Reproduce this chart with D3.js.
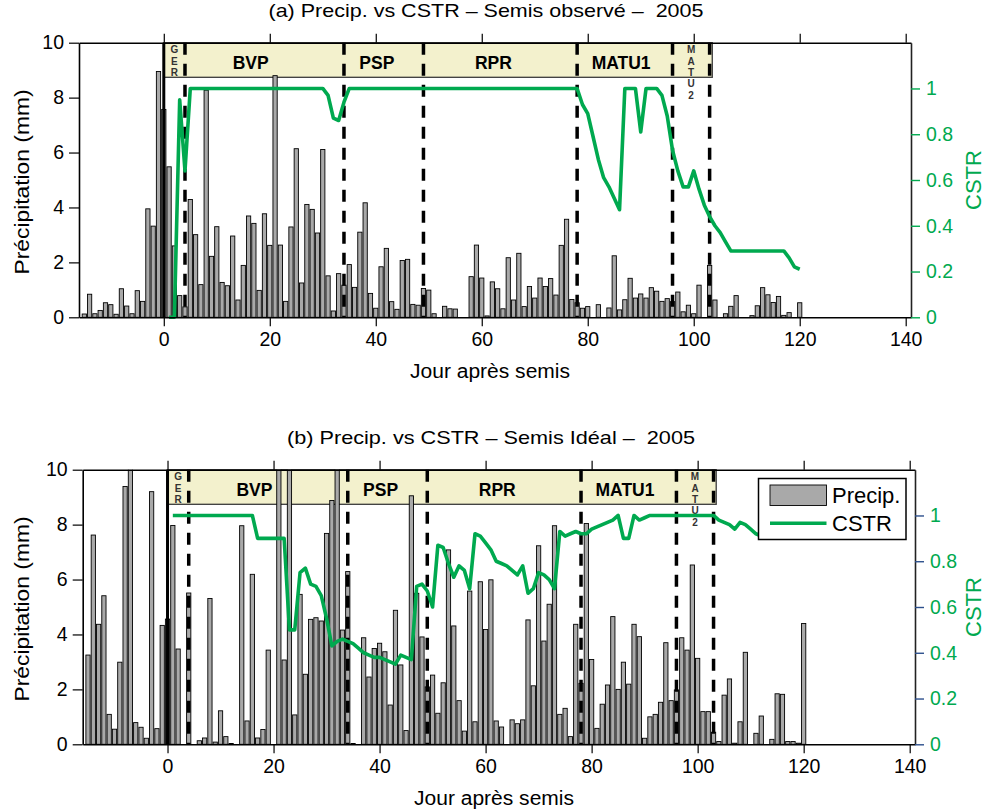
<!DOCTYPE html>
<html><head><meta charset="utf-8">
<script src="https://cdn.jsdelivr.net/npm/d3@7"></script>
<style>
body{margin:0;background:#fff}
svg{display:block}
text{font-family:"Liberation Sans",Arial,Helvetica,sans-serif}
</style>
</head><body>
<svg id="chart" width="986" height="809"></svg>
<script>
// ---------------- DATA ----------------
const precipDays = d3.range(-15, 121); // day after sowing, -15 .. 120
const precipObserved = [
0.12,0.84,0.13,0.25,0.53,0.46,0.11,1.04,0.41,0.13,0.97,0.58,3.95,3.32,8.95,
7.57,
5.48,2.6,0.79,0.38,4.29,3.01,1.19,8.27,2.22,3.3,
1.27,1.15,2.96,0.63,1.89,3.69,3.42,0.98,3.77,2.62,
8.8,2.63,0.58,3.29,6.14,1.25,4.11,3.93,3.07,6.11,
1.51,0.23,1.59,1.17,1.92,1.09,3.1,4.17,0.87,0.33,
1.84,2.51,0.57,0.29,2.07,2.11,0.47,0.44,1.05,0.99,
0.13,0,0.4,0.31,0.3,0,0,1.48,2.63,1.43,
0.05,1.29,1.04,0.31,2.17,0.63,2.33,0.39,1.12,0.7,
1.43,1.12,1.41,0.81,2.62,3.57,0.65,0.53,0.33,0.39,
0,0.46,0,0.34,2.24,0.27,0.64,1.42,0.7,0.85,
0.7,1.08,0.95,0.58,0.68,0.57,0.92,0.2,0.44,0.13,
1.17,0,1.89,0.63,0,0.13,0.4,0.79,0,0,
0.06,0.42,1.08,0.82,0.54,0.76,0.07,0.17,0,0.53
];
const precipIdeal = [
3.25,7.62,4.37,5.41,1.09,0.55,2.99,9.39,12,0.79,0.62,0.22,9.2,0.57,4.33,
4.56,
7.97,3.47,0,5.51,0,0.13,0.23,5.31,0.08,1.22,
0.28,0.03,0,7.96,0.85,6.19,0.23,0.54,3.43,0,
12,3.07,12,1.07,5.46,2.55,4.55,4.61,4.49,7.68,
8.88,12,4.16,6.29,0.03,0,3.88,2.45,3.49,3.68,
3.37,1.43,4.88,2.89,0.5,9.05,5.5,3.91,2.09,2.52,
1.13,2.24,7.08,4.31,1.59,0.48,5.58,0.82,5.92,4.18,
5.99,0.85,0.63,0,0.89,0.75,0.89,4.53,2.13,7.23,
3.76,5.1,7.96,1.09,1.31,0.28,4.37,2.22,8.04,3.09,
0.58,1.46,2.16,4.65,2.0,2.99,2.19,4.37,3.92,0.22,
1.0,1.09,1.53,3.7,1.59,1.98,3.88,3.43,6.53,3.13,
1.19,1.19,0.44,0.1,1.79,2.38,0.04,0.82,3.35,0,
0.4,1.03,0,0.18,1.84,1.82,0.1,0.1,0.04,4.4
];
const cstrObservedDays = d3.range(1, 121);
const cstrObserved = [
0,0,0.95,0.64,1,
1,1,1,1,1,1,1,1,1,1,1,1,1,1,1,1,1,1,1,1,1,1,1,1,1,
0.97,0.87,0.86,0.94,1,
1,1,1,1,1,1,1,1,1,1,1,1,1,1,1,1,1,1,1,1,1,1,1,1,1,1,1,1,1,1,1,1,1,1,1,1,1,1,1,1,1,1,1,
0.93,0.89,0.79,0.69,0.61,0.57,0.52,0.47,
1,1,1,0.81,1,1,1,
0.97,0.88,0.73,0.64,0.57,0.57,0.64,0.56,0.49,0.44,0.40,0.37,0.33,0.29,
0.29,0.29,0.29,0.29,0.29,0.29,0.29,0.29,0.29,0.29,
0.26,0.22,0.21
];
const cstrIdealDays = d3.range(1, 113);
const cstrIdeal = [
1,1,1,1,1,1,1,1,1,1,1,1,1,1,1,1,
0.9,0.9,0.9,0.9,0.9,0.9,
0.50,0.50,0.75,0.77,0.70,0.69,0.65,0.55,0.43,0.45,0.46,0.45,0.44,0.42,
0.40,0.39,0.38,0.38,0.37,0.36,0.35,0.39,0.38,0.37,
0.69,0.70,0.67,0.60,0.87,0.86,0.79,0.73,0.78,0.76,0.68,
0.92,0.91,0.88,0.85,0.80,0.79,0.78,0.76,0.74,0.78,0.66,0.68,0.75,0.74,0.72,0.68,
0.93,0.91,0.92,0.93,0.92,0.92,0.94,0.95,0.96,0.97,0.98,1.0,0.90,0.90,1.0,0.98,0.99,
1,1,1,1,1,1,1,1,1,1,1,1,1,
0.98,0.97,0.96,0.94,0.97,0.96,0.94,0.92,0.91
];
const phaseNames = ["GER","BVP","PSP","RPR","MATU1","MATU2"];
const phaseEnds = [4, 34, 49, 78, 96, 103];
const phaseLabelDays = [2, 16.4, 40.2, 62.2, 86.3, 99.5];
const verticalPhases = ["GER","MATU2"];
const xTickValues = [0, 20, 40, 60, 80, 100, 120, 140];
const precipTicks = [0, 2, 4, 6, 8, 10];
const cstrTicks = [0, 0.2, 0.4, 0.6, 0.8, 1];
const titles = ["(a) Precip. vs CSTR \u2013 Semis observ\u00e9 \u2013  2005",
                "(b) Precip. vs CSTR \u2013 Semis Id\u00e9al \u2013  2005"];
const xLabel = "Jour apr\u00e8s semis";
const yLabel = "Pr\u00e9cipitation (mm)";
const y2Label = "CSTR";
const legendLabels = ["Precip.", "CSTR"];

// ---------------- LAYOUT / STYLE ----------------
const GREEN = "#00a94f";
const BAR_FILL = "#a9a9a9";
const BAND_FILL = "#f3f1cd";
const svg = d3.select("#chart");

const panels = [
  {title: titles[0], precip: precipObserved, cdays: cstrObservedDays, cstr: cstrObserved,
   left: 79, right: 911, top: 42.7, bottom: 317.3, titleX: 486, titleLen: 435,
   xLabelX: 490, r2TickColor: GREEN, legend: false},
  {title: titles[1], precip: precipIdeal, cdays: cstrIdealDays, cstr: cstrIdeal,
   left: 82.7, right: 915, top: 469.7, bottom: 744.3, titleX: 491, titleLen: 408,
   xLabelX: 494, r2TickColor: "#2c4f8c", legend: true}
];

panels.forEach((p, pi) => {
  const g = svg.append("g");
  const x = d3.scaleLinear().domain([-16, 141]).range([p.left, p.right]);
  const yP = d3.scaleLinear().domain([0, 10]).range([p.bottom, p.top]);
  const yC = d3.scaleLinear().domain([0, 1.2]).range([p.bottom, p.top]);
  const bandH = 34.6;

  const clipId = "clip" + pi;
  svg.append("clipPath").attr("id", clipId).append("rect")
    .attr("x", p.left).attr("y", p.top).attr("width", p.right - p.left).attr("height", p.bottom - p.top);

  // phase band
  g.append("rect")
    .attr("x", x(0)).attr("y", p.top)
    .attr("width", x(103.5) - x(0)).attr("height", bandH)
    .attr("fill", BAND_FILL).attr("stroke", "#3a3a3a").attr("stroke-width", 1.3);

  // bars
  const barData = precipDays.map((d, i) => ({d, v: p.precip[i]})).filter(o => o.v > 0);
  g.append("g").attr("clip-path", `url(#${clipId})`)
    .selectAll("rect").data(barData).enter().append("rect")
    .attr("x", o => x(o.d - 0.4))
    .attr("width", o => x(o.d + 0.4) - x(o.d - 0.4))
    .attr("y", o => yP(o.v))
    .attr("height", o => yP(0) - yP(o.v))
    .attr("fill", BAR_FILL).attr("stroke", "#000").attr("stroke-width", 0.9);

  // sowing day solid line
  g.append("line").attr("x1", x(0)).attr("x2", x(0)).attr("y1", p.top).attr("y2", p.bottom)
    .attr("stroke", "#000").attr("stroke-width", 3);

  // phase dashed lines
  g.selectAll("line.ph").data(phaseEnds).enter().append("line")
    .attr("x1", d => x(d)).attr("x2", d => x(d))
    .attr("y1", p.top).attr("y2", p.bottom)
    .attr("stroke", "#000").attr("stroke-width", 3.5).attr("stroke-dasharray", "12,9");

  // phase labels
  phaseNames.forEach((name, i) => {
    const cx = x(phaseLabelDays[i]);
    if (verticalPhases.includes(name)) {
      name.split("").forEach((ch, k) => {
        g.append("text").attr("x", cx).attr("y", p.top + 10.5 + k * 11.4)
          .attr("text-anchor", "middle").attr("font-size", 10).attr("font-weight", "bold")
          .attr("fill", "#333").text(ch);
      });
    } else {
      g.append("text").attr("x", cx).attr("y", p.top + 26.6)
        .attr("text-anchor", "middle").attr("font-size", 17.5).attr("font-weight", "bold")
        .attr("fill", "#000").text(name);
    }
  });

  // CSTR line
  const line = d3.line().x((d, i) => x(p.cdays[i])).y(d => yC(d));
  g.append("path").datum(p.cstr).attr("d", line)
    .attr("fill", "none").attr("stroke", GREEN).attr("stroke-width", 3.6)
    .attr("stroke-linejoin", "round");

  // axes
  const axB = g.append("g").attr("transform", `translate(0,${p.bottom})`)
    .call(d3.axisBottom(x).tickValues(xTickValues).tickSize(9).tickSizeOuter(0).tickPadding(6).tickFormat(d3.format("d")));
  const axT = g.append("g").attr("transform", `translate(0,${p.top})`)
    .call(d3.axisTop(x).tickValues(xTickValues).tickSize(9).tickSizeOuter(0).tickFormat(""));
  const axL = g.append("g").attr("transform", `translate(${p.left},0)`)
    .call(d3.axisLeft(yP).tickValues(precipTicks).tickSize(10).tickSizeOuter(0).tickPadding(5).tickFormat(d3.format("d")));
  const axR = g.append("g").attr("transform", `translate(${p.right},0)`)
    .call(d3.axisRight(yC).tickValues(cstrTicks).tickSize(9).tickSizeOuter(0).tickPadding(6).tickFormat(d => d === 0 || d === 1 ? d3.format("d")(d) : d3.format(".1f")(d)));

  [axB, axT, axL].forEach(a => {
    a.select(".domain").attr("stroke", "#000").attr("stroke-width", 1.6);
    a.selectAll(".tick line").attr("stroke", "#000").attr("stroke-width", 1.2);
    a.selectAll(".tick text").attr("font-size", 19.5).attr("fill", "#000")
      .style("font-family", '"Liberation Sans",Arial,sans-serif');
  });
  axR.select(".domain").attr("stroke", "#222").attr("stroke-width", 1.6);
  axR.selectAll(".tick line").attr("stroke", p.r2TickColor).attr("stroke-width", 1.4);
  axR.selectAll(".tick text").attr("font-size", 19.5).attr("fill", GREEN)
    .style("font-family", '"Liberation Sans",Arial,sans-serif');

  // title
  g.append("text").attr("x", p.titleX).attr("y", p.top - 26.2)
    .attr("text-anchor", "middle").attr("font-size", 18.5)
    .attr("textLength", p.titleLen).attr("lengthAdjust", "spacingAndGlyphs")
    .style("white-space", "pre")
    .text(p.title);

  // x label
  g.append("text").attr("x", p.xLabelX).attr("y", p.bottom + 60.5)
    .attr("text-anchor", "middle").attr("font-size", 20)
    .attr("textLength", 160).attr("lengthAdjust", "spacingAndGlyphs")
    .text(xLabel);

  // y label (left)
  const yMid = (p.top + p.bottom) / 2 + 2;
  g.append("text").attr("transform", `translate(${29},${yMid}) rotate(-90)`)
    .attr("text-anchor", "middle").attr("font-size", 20)
    .attr("textLength", 185).attr("lengthAdjust", "spacingAndGlyphs")
    .text(yLabel);

  // y2 label (right)
  g.append("text").attr("transform", `translate(${981},${(p.top + p.bottom) / 2}) rotate(-90)`)
    .attr("text-anchor", "middle").attr("font-size", 22).attr("fill", GREEN)
    .text(y2Label);

  // legend
  if (p.legend) {
    const lg = g.append("g");
    lg.append("rect").attr("x", 758.5).attr("y", 478.5).attr("width", 147.5).attr("height", 61)
      .attr("fill", "#fff").attr("stroke", "#000").attr("stroke-width", 1.5);
    lg.append("rect").attr("x", 770).attr("y", 485).attr("width", 56.5).attr("height", 20.5)
      .attr("fill", BAR_FILL).attr("stroke", "#000").attr("stroke-width", 0.9);
    lg.append("line").attr("x1", 770).attr("x2", 826.5).attr("y1", 523.3).attr("y2", 523.3)
      .attr("stroke", GREEN).attr("stroke-width", 3.6);
    lg.append("text").attr("x", 832).attr("y", 503).attr("font-size", 22).text(legendLabels[0]);
    lg.append("text").attr("x", 832).attr("y", 531).attr("font-size", 22).text(legendLabels[1]);
  }
});
</script>
</body></html>
